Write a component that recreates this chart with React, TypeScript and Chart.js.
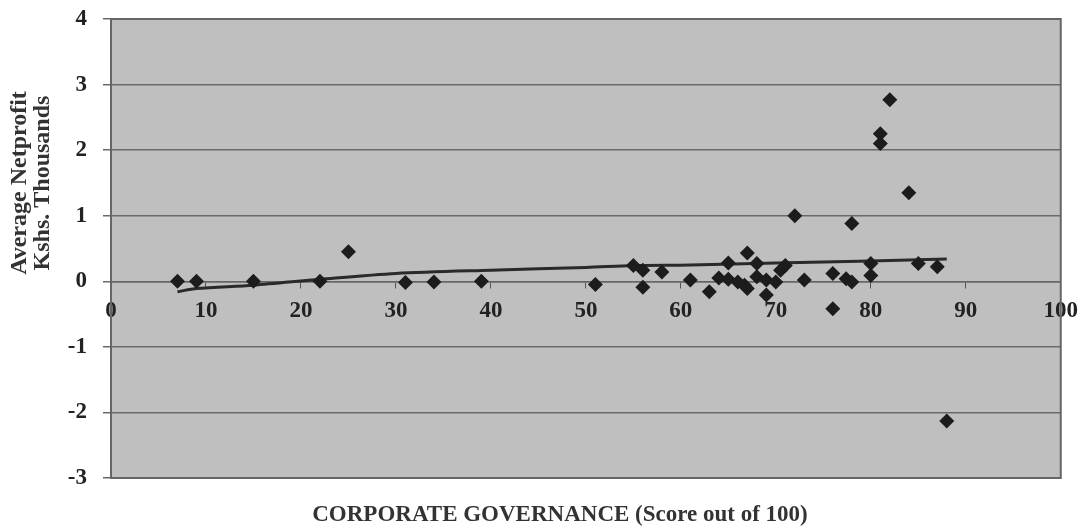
import React, { useEffect, useRef } from "react";
import { Chart, registerables } from "chart.js";

Chart.register(...registerables);

// Scatter data
const scores: number[] = [7, 9, 15, 22, 25, 31, 34, 39, 51, 55, 56, 56, 58, 61, 63, 64, 65, 65, 66, 66.7, 67, 67, 68, 68, 69, 69, 70, 70.5, 71, 72, 73, 76, 76, 77.4, 78, 78, 80, 80, 81, 81, 82, 84, 85, 87, 88];
const profits: number[] = [0, 0, 0, 0, 0.45, -0.02, -0.01, 0, -0.05, 0.24, 0.17, -0.09, 0.14, 0.02, -0.16, 0.05, 0.28, 0.03, -0.01, -0.06, 0.43, -0.11, 0.27, 0.07, 0.02, -0.21, -0.01, 0.17, 0.24, 1.0, 0.02, 0.12, -0.42, 0.04, -0.01, 0.88, 0.27, 0.09, 2.25, 2.1, 2.77, 1.35, 0.27, 0.22, -2.13];

// Trend line
const trendX: number[] = [7, 9, 15, 22, 30, 40, 50, 55, 61, 70, 80, 88];
const trendY: number[] = [-0.16, -0.11, -0.06, 0.03, 0.12, 0.17, 0.21, 0.24, 0.25, 0.28, 0.31, 0.34];

const yTitleLines: string[] = ["Average Netprofit", "Kshs. Thousands"];
const xTitle = "CORPORATE GOVERNANCE (Score out of 100)";

const FONT_FAMILY = "'Liberation Serif', 'Times New Roman', serif";

export default function App() {
  const canvasRef = useRef<HTMLCanvasElement | null>(null);

  useEffect(() => {
    document.body.style.margin = "0";
    const canvas = canvasRef.current;
    if (!canvas) return;

    const framePlugin = {
      id: "framePlugin",
      beforeDraw(chart: any) {
        const { ctx, chartArea } = chart;
        ctx.save();
        ctx.fillStyle = "#bfbfbf";
        ctx.fillRect(chartArea.left, chartArea.top, chartArea.right - chartArea.left, chartArea.bottom - chartArea.top);
        ctx.restore();
      },
      afterDraw(chart: any) {
        const { ctx, chartArea } = chart;
        ctx.save();
        ctx.strokeStyle = "#666666";
        ctx.lineWidth = 2;
        ctx.strokeRect(chartArea.left, chartArea.top, chartArea.right - chartArea.left, chartArea.bottom - chartArea.top);
        // Y title (two rotated lines)
        ctx.fillStyle = "#333333";
        ctx.font = `bold 24px ${FONT_FAMILY}`;
        ctx.textAlign = "center";
        ctx.textBaseline = "middle";
        const xs = [20, 43];
        yTitleLines.forEach((line, i) => {
          ctx.save();
          ctx.translate(xs[i], 183);
          ctx.rotate(-Math.PI / 2);
          ctx.fillText(line, 0, 0);
          ctx.restore();
        });
        // X title
        ctx.font = `bold 23px ${FONT_FAMILY}`;
        ctx.fillText(xTitle, 560, 515);
        ctx.restore();
      },
    };

    const chart = new Chart(canvas, {
      type: "scatter",
      data: {
        datasets: [
          {
            label: "Companies",
            data: scores.map((x, i) => ({ x, y: profits[i] })),
            pointStyle: "rectRot",
            pointRadius: 7.5,
            backgroundColor: "#1c1c1c",
            borderColor: "#1c1c1c",
            borderWidth: 0,
          },
          {
            label: "Trend",
            data: trendX.map((x, i) => ({ x, y: trendY[i] })),
            showLine: true,
            pointRadius: 0,
            borderColor: "#2a2a2a",
            borderWidth: 3,
            tension: 0.3,
            fill: false,
          },
        ],
      },
      options: {
        responsive: false,
        animation: false,
        devicePixelRatio: 1,
        layout: { padding: { top: 19, right: 27, bottom: 54, left: 0 } },
        plugins: {
          legend: { display: false },
          tooltip: { enabled: false },
          title: { display: false },
        },
        scales: {
          x: {
            type: "linear",
            min: 0,
            max: 100,
            position: { y: 0 } as any,
            ticks: {
              stepSize: 10,
              padding: 10,
              color: "#222222",
              font: { family: FONT_FAMILY, size: 23, weight: "bold" },
              maxRotation: 0,
            },
            grid: {
              drawOnChartArea: false,
              drawTicks: true,
              tickLength: 6,
              color: "#555555",
            },
            border: { display: true, color: "#666666", width: 1.5 },
            afterFit(scale: any) {
              scale.paddingTop = 0;
              scale.paddingBottom = 0;
              scale.height = 0;
            },
          },
          y: {
            type: "linear",
            min: -3,
            max: 4,
            position: "left",
            ticks: {
              stepSize: 1,
              padding: 16,
              color: "#222222",
              font: { family: FONT_FAMILY, size: 23, weight: "bold" },
            },
            grid: {
              color: "#6a6a6a",
              lineWidth: 1.5,
              tickLength: 8,
            },
            border: { display: false },
            afterFit(scale: any) {
              scale.width = 111;
              scale.paddingTop = 0;
              scale.paddingBottom = 0;
            },
          },
        },
      },
      plugins: [framePlugin],
    });

    return () => chart.destroy();
  }, []);

  return (
    <div style={{ width: 1088, height: 532, background: "#ffffff" }}>
      <canvas ref={canvasRef} width={1088} height={532} style={{ display: "block" }} />
    </div>
  );
}
